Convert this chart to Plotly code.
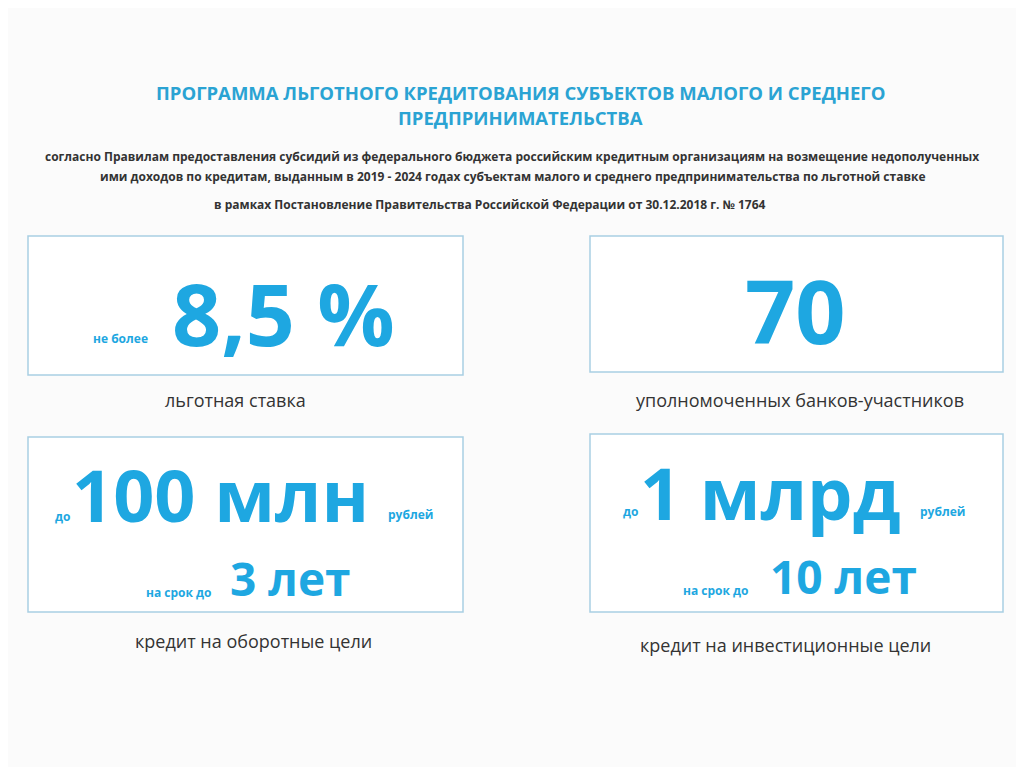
import plotly.graph_objects as go

title_lines = ["ПРОГРАММА ЛЬГОТНОГО КРЕДИТОВАНИЯ СУБЪЕКТОВ МАЛОГО И СРЕДНЕГО", "ПРЕДПРИНИМАТЕЛЬСТВА"]
sub_lines = ["согласно Правилам предоставления субсидий из федерального бюджета российским кредитным организациям на возмещение недополученных",
             "ими доходов по кредитам, выданным в 2019 - 2024 годах субъектам малого и среднего предпринимательства по льготной ставке",
             "в рамках Постановление Правительства Российской Федерации от 30.12.2018 г. № 1764"]
big_values = ["8,5 %", "70", "100 млн", "1 млрд"]
prefixes = ["не более", "", "до", "до"]
suffixes = ["", "", "рублей", "рублей"]
terms = ["", "", "3 лет", "10 лет"]
captions = ["льготная ставка", "уполномоченных банков-участников", "кредит на оборотные цели", "кредит на инвестиционные цели"]

BLUE = "#1ea7e1"
DARK = "#333333"
FONT = "Open Sans"

boxes = [(28, 236, 463, 375), (590, 236, 1003, 372), (28, 437, 463, 612), (590, 434, 1003, 612)]
big_pos = [(283, 312), (795, 310), (220, 494), (770, 492)]
big_size = [86, 88, 72, 72]
pre_pos = [(120, 338), None, (62, 516), (630, 511)]
suf_pos = [None, None, (410, 514), (942, 511)]
term_pos = [None, None, (290, 578), (843, 576)]
termpre_pos = [None, None, (178, 592), (715, 590)]
cap_pos = [(235, 400), (800, 400), (253, 641), (785, 645)]

fig = go.Figure()
ann = []
def t(x, y, s, size, color, bold=False, anchor="center"):
    ann.append(dict(x=x, y=y, xref="x", yref="y", text=f"<b>{s}</b>" if bold else s, showarrow=False,
                    font=dict(family=FONT, size=size, color=color), xanchor=anchor, yanchor="middle"))

t(520, 92, title_lines[0], 18.5, "#2aa3d3", True)
t(520, 117, title_lines[1], 18.5, "#2aa3d3", True)
t(512, 156, sub_lines[0], 12, DARK, True)
t(512, 176, sub_lines[1], 12, DARK, True)
t(490, 204, sub_lines[2], 12, DARK, True)

shapes = []
for i, b in enumerate(boxes):
    shapes.append(dict(type="rect", xref="x", yref="y", x0=b[0], y0=b[1], x1=b[2], y1=b[3],
                       line=dict(color="#a9cfe3", width=1.5), fillcolor="white"))
    t(*big_pos[i], big_values[i], big_size[i], BLUE, True)
    if pre_pos[i]:
        t(*pre_pos[i], prefixes[i], 12, BLUE, True)
    if suf_pos[i]:
        t(*suf_pos[i], suffixes[i], 12, BLUE, True)
    if term_pos[i]:
        t(*term_pos[i], terms[i], 46, BLUE, True)
        t(*termpre_pos[i], "на срок до", 12, BLUE, True)
    t(*cap_pos[i], captions[i], 18, DARK)

fig.update_layout(width=1024, height=767, margin=dict(l=0, r=0, t=0, b=0),
                  paper_bgcolor="#fbfbfb", plot_bgcolor="#fbfbfb",
                  xaxis=dict(range=[8, 1032], visible=False, fixedrange=True),
                  yaxis=dict(range=[775, 8], visible=False, fixedrange=True),
                  shapes=shapes, annotations=ann, showlegend=False)
fig.write_html("out.html")
